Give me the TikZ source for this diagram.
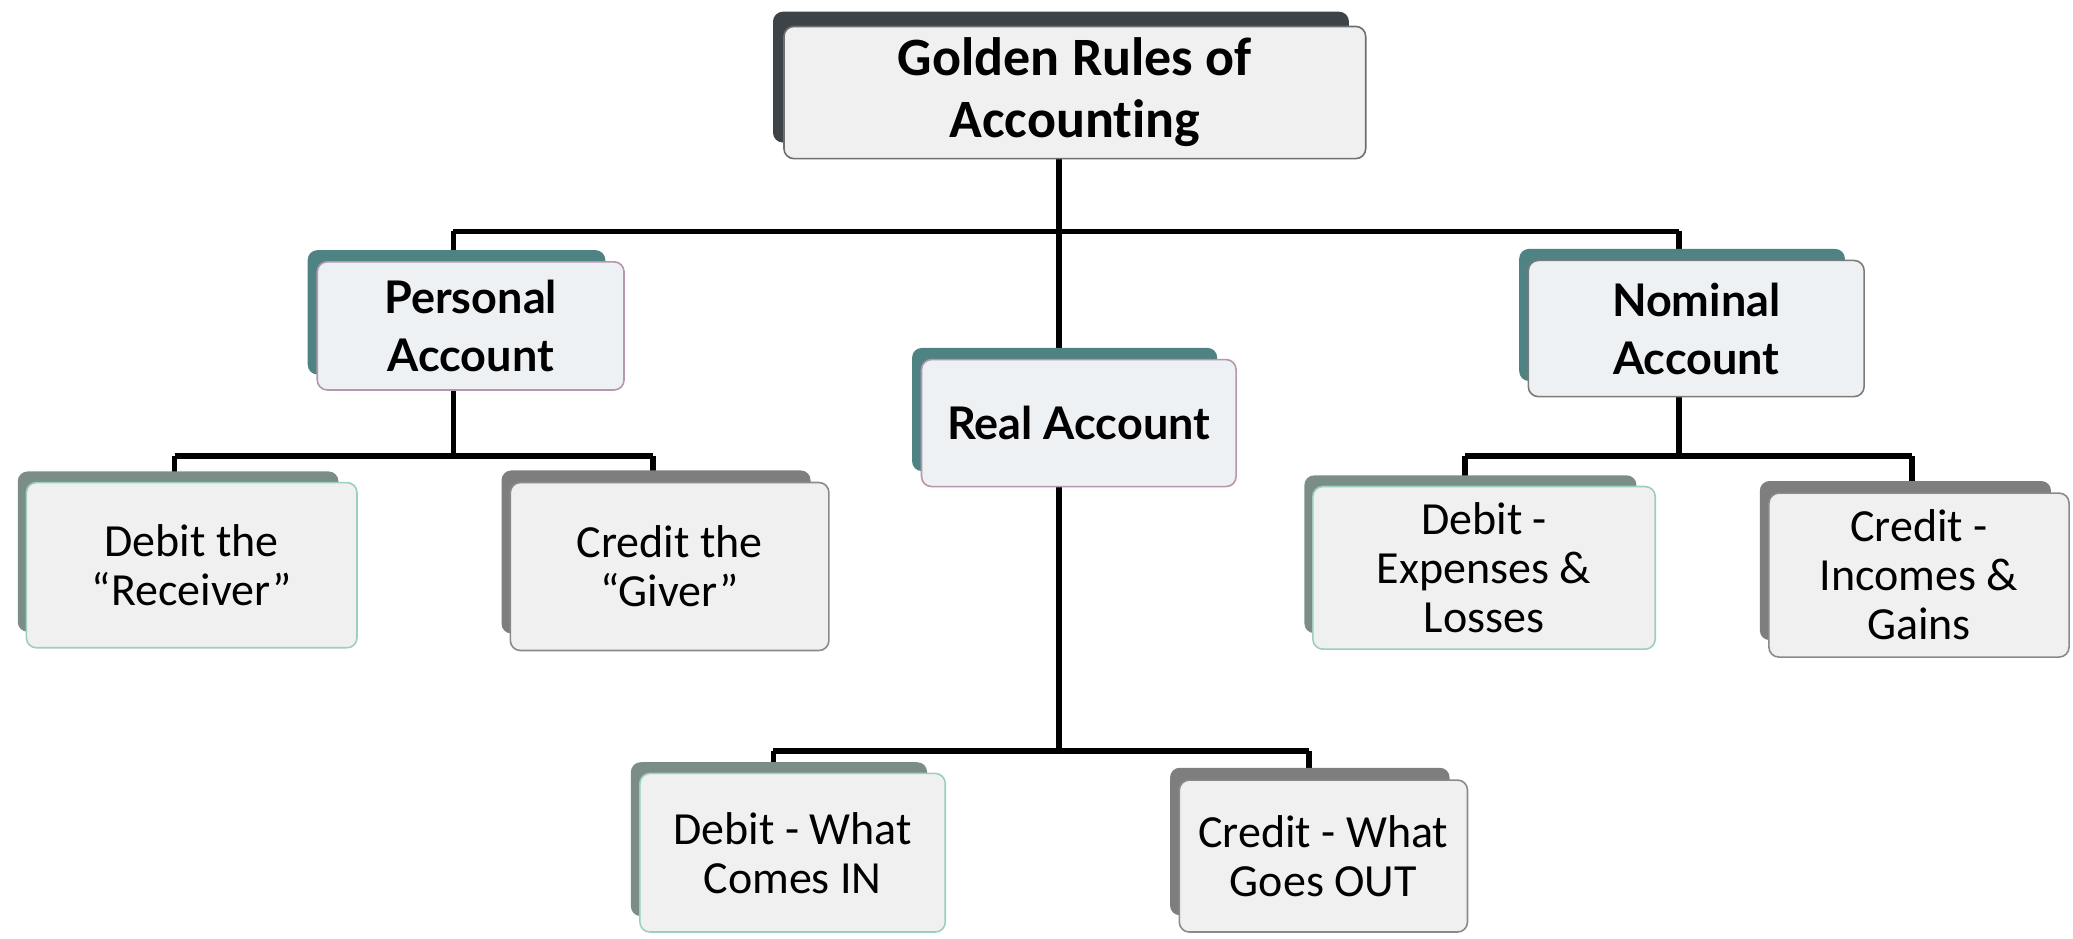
\documentclass[tikz,border=0pt]{standalone}
\usepackage{fontspec}
\setmainfont{Carlito}[Ligatures=NoCommon]
\newfontfamily\latofont{Lato}
\usetikzlibrary{shadows,backgrounds,calc}
\definecolor{topshadow}{HTML}{3E4347}
\definecolor{tealshadow}{HTML}{4F8282}
\definecolor{greenshadow}{HTML}{7A8E86}
\definecolor{greyshadow}{HTML}{7E7E7E}
\definecolor{frontfill}{HTML}{F0F0F0}
\definecolor{midfill}{HTML}{EEF1F3}
\definecolor{topborder}{HTML}{6E6E6E}
\definecolor{pinkborder}{HTML}{B596AE}
\definecolor{greyborder}{HTML}{7B7B7B}
\definecolor{debitborder}{HTML}{9CCFC0}
\definecolor{creditborder}{HTML}{8A8A8A}
\begin{document}
\begin{tikzpicture}[x=0.6611pt,y=-0.6611pt,
  box/.style={draw, rounded corners=5pt, line width=0.8pt, align=center, inner sep=0pt},
  topbox/.style={box, draw=topborder, fill=frontfill,
    general shadow={fill=topshadow, shadow xshift=-7pt, shadow yshift=7.8pt, shadow scale=0.99},
    font=\bfseries\fontsize{27}{31}\selectfont},
  midbox/.style={box, fill=midfill,
    general shadow={fill=tealshadow, shadow xshift=-7.3pt, shadow yshift=7pt, shadow scale=0.97},
    font=\latofont\bfseries\fontsize{22.5}{29}\selectfont},
  leafbox/.style={box, fill=frontfill, font=\fontsize{23}{24.5}\selectfont},
  debitbox/.style={leafbox, draw=debitborder,
    general shadow={fill=greenshadow, shadow xshift=-7pt, shadow yshift=7pt, shadow scale=0.97}},
  creditbox/.style={leafbox, draw=creditborder,
    general shadow={fill=greyshadow, shadow xshift=-7pt, shadow yshift=7.5pt, shadow scale=0.97}},
  conn/.style={line width=2.8pt, black}
]
\useasboundingbox (0,0) rectangle (1568,710);

\node[topbox, minimum width=290.9pt, minimum height=66.1pt] (top) at (813,70) {Golden Rules of\\Accounting};
\node[midbox, draw=pinkborder, minimum width=153.4pt, minimum height=64.1pt] (pers) at (356,246.5) {Personal\\Account};
\node[midbox, draw=pinkborder, minimum width=157.3pt, minimum height=63.5pt] (real) at (816,320) {Real Account};
\node[midbox, draw=greyborder, minimum width=167.9pt, minimum height=68.1pt] (nom) at (1283,248.5) {Nominal\\Account};
\node[debitbox, minimum width=165.3pt, minimum height=82.6pt] (recv) at (145,427.5) {Debit the\\“Receiver”};
\node[creditbox, minimum width=159.3pt, minimum height=84.0pt] (giver) at (506.5,428.5) {Credit the\\“Giver”};
\node[debitbox, minimum width=171.2pt, minimum height=81.3pt] (exp) at (1122.5,429.5) {Debit -\\Expenses \&\\Losses};
\node[creditbox, minimum width=150.1pt, minimum height=82.0pt] (inc) at (1451.5,435) {Credit -\\Incomes \&\\Gains};
\node[debitbox, minimum width=152.7pt, minimum height=79.3pt] (cin) at (599.5,645) {Debit - What\\Comes IN};
\node[creditbox, minimum width=144.1pt, minimum height=76.0pt] (cout) at (1001,647.5) {Credit - What\\Goes OUT};

\coordinate (j0) at (801,175);
\coordinate (j0l) at (343,175);
\coordinate (j0r) at (1270,175);
\coordinate (j1) at (343,345);
\coordinate (b1l) at (132,345);
\coordinate (b1r) at (494,345);
\coordinate (j2) at (1270,345);
\coordinate (b2l) at (1108,345);
\coordinate (b2r) at (1446,345);
\coordinate (j3) at (801,568);
\coordinate (b3l) at (585,568);
\coordinate (b3r) at (990,568);

\begin{pgfonlayer}{background}
\draw[conn] (top.south -| j0) -- (j0);
\draw[conn] (j0l) -- (j0r);
\draw[conn] (j0l) -- (pers.north -| j0l);
\draw[conn] (j0r) -- (nom.north -| j0r);
\draw[conn] (j0) -- (real.north -| j0);
\draw[conn] (pers.south -| j1) -- (j1);
\draw[conn] (b1l) -- (b1r);
\draw[conn] (b1l) -- (recv.north -| b1l);
\draw[conn] (b1r) -- (giver.north -| b1r);
\draw[conn] (nom.south -| j2) -- (j2);
\draw[conn] (b2l) -- (b2r);
\draw[conn] (b2l) -- (exp.north -| b2l);
\draw[conn] (b2r) -- (inc.north -| b2r);
\draw[conn] (real.south -| j3) -- (j3);
\draw[conn] (b3l) -- (b3r);
\draw[conn] (b3l) -- (cin.north -| b3l);
\draw[conn] (b3r) -- (cout.north -| b3r);
\end{pgfonlayer}
\end{tikzpicture}
\end{document}
